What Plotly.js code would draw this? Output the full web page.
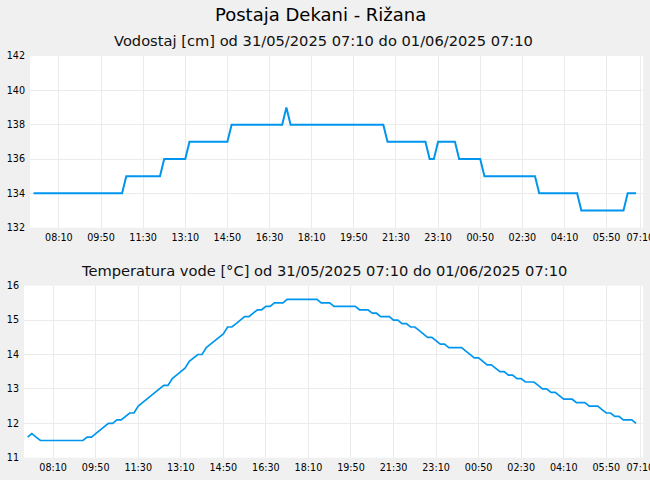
<!DOCTYPE html>
<html>
<head>
<meta charset="utf-8">
<script src="https://cdn.plot.ly/plotly-3.0.1.min.js"></script>
<style>html,body{margin:0;padding:0;background:#f0f0f0;}#chart{width:650px;height:480px;}</style>
</head>
<body>
<div id="chart"></div>
<script>
// Sampling: every 10 minutes from 31/05/2025 07:10 (144 samples, last 01/06/2025 07:00)
var startTime = '2025-05-31T07:10:00';
var stepMinutes = 10;

// Water level [cm]
var waterLevel = [
  134,134,134,134,134,134,134,134,134,134,134,134,134,134,134,134,134,134,134,134,134,134,
  135,135,135,135,135,135,135,135,135,
  136,136,136,136,136,136,
  137,137,137,137,137,137,137,137,137,137,
  138,138,138,138,138,138,138,138,138,138,138,138,138,
  139,
  138,138,138,138,138,138,138,138,138,138,138,138,138,138,138,138,138,138,138,138,138,138,138,
  137,137,137,137,137,137,137,137,137,137,
  136,136,
  137,137,137,137,137,
  136,136,136,136,136,136,
  135,135,135,135,135,135,135,135,135,135,135,135,135,
  134,134,134,134,134,134,134,134,134,134,
  133,133,133,133,133,133,133,133,133,133,133,
  134,134,134
];

// Water temperature [°C]
var waterTemp = [
  11.6,11.7,11.6,11.5,11.5,11.5,11.5,11.5,11.5,11.5,11.5,11.5,11.5,11.5,
  11.6,11.6,11.7,11.8,11.9,12.0,12.0,12.1,12.1,12.2,12.3,12.3,12.5,12.6,12.7,12.8,
  12.9,13.0,13.1,13.1,13.3,13.4,13.5,13.6,13.8,13.9,14.0,14.0,14.2,14.3,14.4,14.5,
  14.6,14.8,14.8,14.9,15.0,15.1,15.1,15.2,15.3,15.3,15.4,15.4,15.5,15.5,15.5,
  15.6,15.6,15.6,15.6,15.6,15.6,15.6,15.6,
  15.5,15.5,15.5,
  15.4,15.4,15.4,15.4,15.4,15.4,
  15.3,15.3,15.3,15.2,15.2,15.1,15.1,15.1,15.0,15.0,14.9,14.9,
  14.8,14.8,14.7,14.6,14.5,14.5,14.4,14.3,14.3,14.2,14.2,14.2,14.2,14.1,14.0,
  13.9,13.9,13.8,13.7,13.7,13.6,13.5,13.5,13.4,13.4,13.3,13.3,13.2,13.2,13.2,
  13.1,13.0,13.0,12.9,12.9,12.8,12.7,12.7,12.7,12.6,12.6,12.6,12.5,12.5,12.5,
  12.4,12.3,12.3,12.2,12.2,12.1,12.1,12.1,12.0
];

var tickVals = [
  '2025-05-31 08:10','2025-05-31 09:50','2025-05-31 11:30','2025-05-31 13:10',
  '2025-05-31 14:50','2025-05-31 16:30','2025-05-31 18:10','2025-05-31 19:50',
  '2025-05-31 21:30','2025-05-31 23:10','2025-06-01 00:50','2025-06-01 02:30',
  '2025-06-01 04:10','2025-06-01 05:50','2025-06-01 07:10'
];
var tickLabels = ['08:10','09:50','11:30','13:10','14:50','16:30','18:10','19:50',
  '21:30','23:10','00:50','02:30','04:10','05:50','07:10'];

var mainTitle = 'Postaja Dekani - Rižana';
var levelTitle = 'Vodostaj [cm] od 31/05/2025 07:10 do 01/06/2025 07:10';
var tempTitle = 'Temperatura vode [°C] od 31/05/2025 07:10 do 01/06/2025 07:10';

function pad(n){return (n<10?'0':'')+n;}
function fmt(d){
  return d.getFullYear()+'-'+pad(d.getMonth()+1)+'-'+pad(d.getDate())+' '+pad(d.getHours())+':'+pad(d.getMinutes());
}
var t0 = new Date(startTime);
var times = [];
for (var i = 0; i < Math.max(waterLevel.length, waterTemp.length); i++) {
  times.push(fmt(new Date(t0.getTime() + i*stepMinutes*60000)));
}

var W = 650, H = 480;
var lineColor = '#0096ef';
var gridColor = '#ebebeb';
var font = 'DejaVu Sans, Verdana, sans-serif';
var xRange = ['2025-05-31 07:01:30', '2025-06-01 07:16:20'];

var traces = [
  {x: times.slice(0, waterLevel.length), y: waterLevel, type: 'scatter', mode: 'lines',
   line: {color: lineColor, width: 2}, xaxis: 'x', yaxis: 'y', hoverinfo: 'x+y'},
  {x: times.slice(0, waterTemp.length), y: waterTemp, type: 'scatter', mode: 'lines',
   line: {color: lineColor, width: 1.7}, xaxis: 'x2', yaxis: 'y2', hoverinfo: 'x+y'}
];

function xax(l) {
  return {domain: [l/W, 643/W], type: 'date', range: xRange, tickmode: 'array',
    tickvals: tickVals, ticktext: tickLabels, showgrid: true, gridcolor: gridColor,
    gridwidth: 1, zeroline: false, showline: false, ticks: '',
    ticklabeloverflow: 'allow', ticklabelstandoff: 3,
    tickfont: {family: font, size: 9.6, color: '#000'}, fixedrange: true};
}
function yax(top, bottom, r, dt) {
  return {domain: [(H-bottom)/H, (H-top)/H], range: r, dtick: dt, tick0: r[0],
    showgrid: true, gridcolor: gridColor, gridwidth: 1, zeroline: false, showline: false,
    ticks: '', ticklabelstandoff: 4, ticklabeloverflow: 'allow',
    tickfont: {family: font, size: 9.6, color: '#000'}, fixedrange: true};
}

var xa1 = xax(30); xa1.anchor = 'y';
var xa2 = xax(24); xa2.anchor = 'y2';
var ya1 = yax(56, 227.7, [132, 142], 2); ya1.anchor = 'x';
var ya2 = yax(285.7, 457.7, [11, 16], 1); ya2.anchor = 'x2';

var layout = {
  width: W, height: H,
  margin: {l: 0, r: 0, t: 0, b: 0, pad: 0},
  paper_bgcolor: '#f0f0f0', plot_bgcolor: '#ffffff',
  showlegend: false,
  font: {family: font, color: '#000'},
  xaxis: xa1, yaxis: ya1, xaxis2: xa2, yaxis2: ya2,
  annotations: [
    {text: mainTitle, xref: 'paper', yref: 'paper', x: 320/W, y: (H-14)/H,
     xanchor: 'center', yanchor: 'middle', showarrow: false,
     font: {family: font, size: 18, color: '#000'}},
    {text: levelTitle, xref: 'paper', yref: 'paper', x: 323.5/W, y: (H-40)/H,
     xanchor: 'center', yanchor: 'middle', showarrow: false,
     font: {family: font, size: 14.67, color: '#111'}},
    {text: tempTitle, xref: 'paper', yref: 'paper', x: 324/W, y: (H-270)/H,
     xanchor: 'center', yanchor: 'middle', showarrow: false,
     font: {family: font, size: 14.67, color: '#111'}}
  ]
};

Plotly.newPlot('chart', traces, layout, {displayModeBar: false, staticPlot: true});
</script>
</body>
</html>
